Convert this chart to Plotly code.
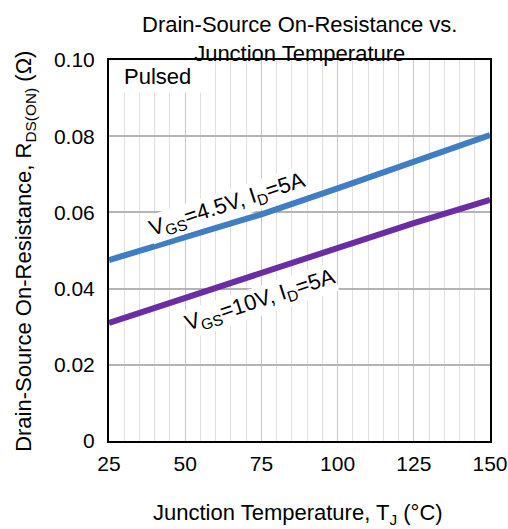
import plotly.graph_objects as go

# Junction temperature (°C) and on-resistance (Ω) for the two gate drives
temp_c = [25, 50, 75, 100, 125, 150]
rds_vgs45 = [0.0475, 0.0534, 0.0595, 0.0663, 0.0732, 0.0803]
rds_vgs10 = [0.0310, 0.0375, 0.0442, 0.0508, 0.0572, 0.0633]

y_ticks = [0, 0.02, 0.04, 0.06, 0.08, 0.10]
y_tick_text = ["0", "0.02", "0.04", "0.06", "0.08", "0.10"]
x_ticks = [25, 50, 75, 100, 125, 150]

FONT = "Liberation Sans, Arial, sans-serif"
FS = 22

fig = go.Figure()
fig.add_trace(go.Scatter(x=temp_c, y=rds_vgs45, mode="lines",
                         line=dict(color="#3f7ec3", width=6),
                         showlegend=False))
fig.add_trace(go.Scatter(x=temp_c, y=rds_vgs10, mode="lines",
                         line=dict(color="#6a2da3", width=6),
                         showlegend=False))

# white patch behind the "Pulsed" note hides the grid there
fig.add_shape(type="rect", xref="x", yref="y", x0=25.3, x1=57, y0=0.0915, y1=0.0998,
              fillcolor="white", line=dict(width=0), layer="between")

annotations = [
    dict(text="Drain-Source On-Resistance vs.<br>Junction Temperature",
         x=0.5, y=1.054, xref="paper", yref="paper", xanchor="center",
         yanchor="middle", showarrow=False, font=dict(size=FS, color="black")),
    dict(text="Pulsed", x=29.3, y=0.0957, xref="x", yref="y", xanchor="left",
         yanchor="middle", showarrow=False, font=dict(size=FS, color="black")),
    dict(text="V<sub>GS</sub>=4.5V, I<sub>D</sub>=5A", x=64, y=0.0620, xref="x", yref="y",
         textangle=-18, showarrow=False, bgcolor="white", borderpad=0,
         font=dict(size=FS, color="black")),
    dict(text="V<sub>GS</sub>=10V, I<sub>D</sub>=5A", x=74.5, y=0.0368, xref="x", yref="y",
         textangle=-18, showarrow=False, bgcolor="white", borderpad=0,
         font=dict(size=FS, color="black")),
    dict(text="Drain-Source On-Resistance, R<sub>DS(ON)</sub> (Ω)", x=-0.2205, y=0.499,
         xref="paper", yref="paper", textangle=-90, showarrow=False,
         xanchor="center", yanchor="middle", font=dict(size=FS, color="black")),
    dict(text="Junction Temperature, T<sub>J</sub> (°C)", x=0.496, y=-0.192,
         xref="paper", yref="paper", showarrow=False, xanchor="center",
         yanchor="middle", font=dict(size=FS, color="black")),
]

fig.update_layout(
    width=508, height=529, autosize=False,
    margin=dict(l=109, r=18, t=60, b=88, autoexpand=False),
    paper_bgcolor="white", plot_bgcolor="white",
    font=dict(family=FONT, size=FS, color="black"),
    annotations=annotations,
)

fig.update_xaxes(
    range=[25, 150], tickvals=x_ticks, ticks="", ticklabelstandoff=3,
    automargin=False,
    showline=True, linecolor="black", linewidth=2, mirror=True,
    showgrid=True, gridcolor="#c8c8c8", gridwidth=1,
    minor=dict(dtick=5, showgrid=True, gridcolor="#e0e0e0", gridwidth=1, ticks=""),
    zeroline=False, tickfont=dict(size=21, color="black"),
)
fig.update_yaxes(
    range=[0, 0.10], tickvals=y_ticks, ticktext=y_tick_text, ticks="",
    ticklabelstandoff=8, automargin=False,
    showline=True, linecolor="black", linewidth=2, mirror=True,
    showgrid=True, gridcolor="#b4b4b4", gridwidth=2,
    zeroline=False, tickfont=dict(size=21, color="black"),
)

fig.write_html("out.html", config={"responsive": False})
